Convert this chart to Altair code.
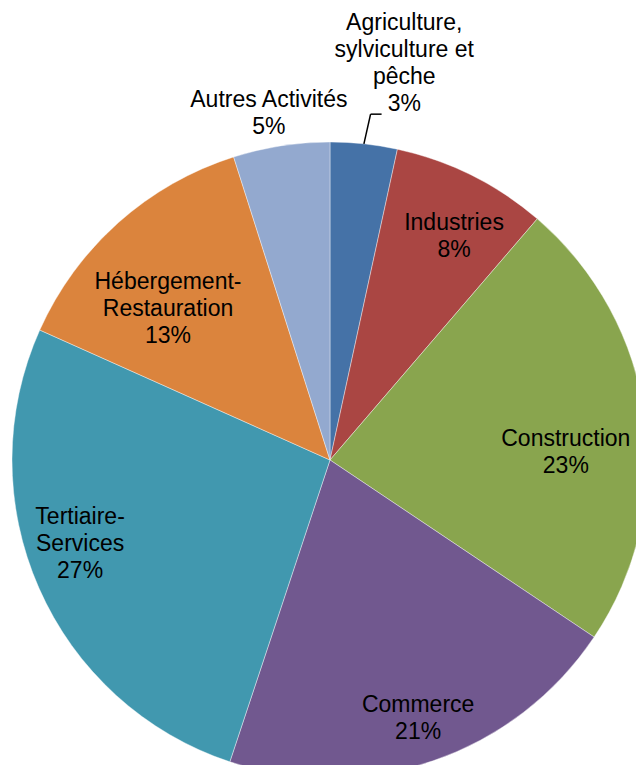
import altair as alt
import pandas as pd

# ---- data ----
categories = [
    "Agriculture,\nsylviculture et\npêche",
    "Industries",
    "Construction",
    "Commerce",
    "Tertiaire-\nServices",
    "Hébergement-\nRestauration",
    "Autres Activités",
]
values = [3.4, 7.9, 23.1, 20.7, 26.6, 13.4, 4.9]
percent_labels = ["3%", "8%", "23%", "21%", "27%", "13%", "5%"]

# ---- styling ----
colors = ["#4572A7", "#AA4643", "#89A54E", "#71588F", "#4198AF", "#DB843D", "#93A9CF"]
# label placement (fraction of radius, angle nudge in degrees), leader line flag
label_radius = [1.267, 0.803, 0.742, 0.86, 0.829, 0.697, 1.105]
label_nudge = [4.5, 2.6, 5.8, 0.1, 5.2, -5.2, -1.2]
leader = [1, 0, 0, 0, 0, 0, 0]

W, H = 628, 757
CX, CY, R = 322, 452, 318
FS, LH = 23, 27

labels_text = [c + "\n" + p for c, p in zip(categories, percent_labels)]
df = pd.DataFrame({
    "cat": categories,
    "value": values,
    "order": list(range(len(categories))),
    "label": labels_text,
    "nl": [t.count("\n") + 1 for t in labels_text],
    "lr": label_radius,
    "la": label_nudge,
    "leader": leader,
})

base = (
    alt.Chart(df)
    .transform_window(cum="sum(value)", sort=[alt.SortField("order")], frame=[None, 0])
    .transform_joinaggregate(total="sum(value)")
    .transform_calculate(mid="(datum.cum - datum.value/2) / datum.total * 2 * PI")
)

pie = base.mark_arc(radius=R, stroke="white", strokeWidth=0.4).encode(
    theta=alt.Theta("value:Q", stack=True),
    color=alt.Color("cat:N", scale=alt.Scale(domain=categories, range=colors), legend=None),
    order=alt.Order("order:Q"),
    x=alt.value(CX),
    y=alt.value(CY),
)

labels = (
    base.transform_calculate(
        ang="datum.mid + datum.la * PI / 180",
    )
    .transform_calculate(
        lx=f"{CX} + datum.lr * {R} * sin(datum.ang)",
        ly=f"{CY} - datum.lr * {R} * cos(datum.ang) - (datum.nl - 1) * {LH} / 2",
    )
    .mark_text(
        font="Liberation Sans", fontSize=FS, lineHeight=LH, lineBreak="\n",
        align="center", baseline="middle", color="black",
    )
    .encode(
        x=alt.X("lx:Q", scale=None, axis=None),
        y=alt.Y("ly:Q", scale=None, axis=None),
        text="label:N",
    )
)

lead_base = (
    base.transform_filter("datum.leader == 1")
    .transform_calculate(
        x0=f"{CX} + {R} * sin(datum.mid)",
        y0=f"{CY} - {R} * cos(datum.mid)",
        x1=f"{CX} + {R} * 1.095 * sin(datum.mid + 0.01)",
        y1=f"{CY} - {R} * 1.095 * cos(datum.mid + 0.01)",
    )
    .transform_calculate(x2="datum.x1 + 11")
)
lead1 = lead_base.mark_rule(color="black", strokeWidth=1.5).encode(
    x=alt.X("x0:Q", scale=None, axis=None),
    y=alt.Y("y0:Q", scale=None, axis=None),
    x2="x1:Q",
    y2="y1:Q",
)
lead2 = lead_base.mark_rule(color="black", strokeWidth=1.5).encode(
    x=alt.X("x1:Q", scale=None, axis=None),
    y=alt.Y("y1:Q", scale=None, axis=None),
    x2="x2:Q",
)

chart = (
    alt.layer(pie, lead1, lead2, labels)
    .properties(width=W, height=H, autosize=alt.AutoSizeParams(type="none"), padding=0)
    .configure_view(stroke=None)
)

chart.save("out.html", embed_options={"renderer": "svg", "actions": False})
